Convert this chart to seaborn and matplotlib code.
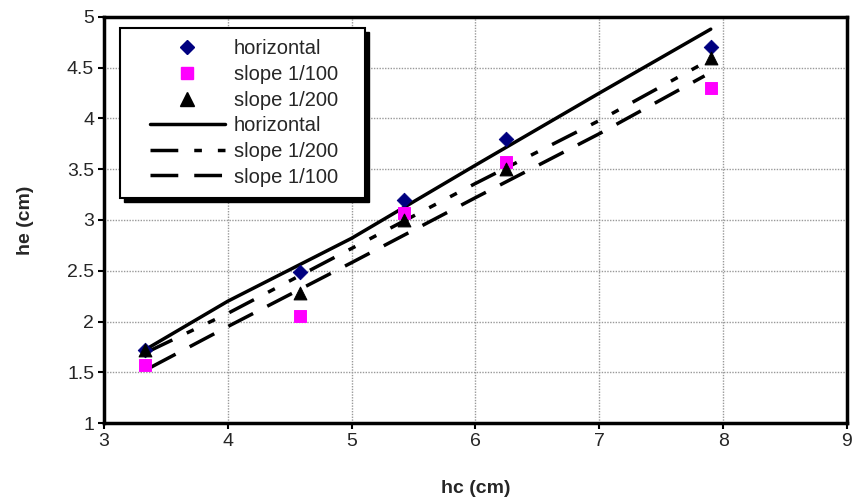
import pandas as pd
import numpy as np
import matplotlib.pyplot as plt
import seaborn as sns
from matplotlib.lines import Line2D
from matplotlib.patches import Rectangle

# measured points
hc_pts = [3.33, 4.58, 5.42, 6.25, 7.90]
he_horizontal = [1.72, 2.49, 3.20, 3.80, 4.70]
he_slope100 = [1.57, 2.05, 3.07, 3.57, 4.30]
he_slope200 = [1.72, 2.28, 3.00, 3.50, 4.60]

# fitted curves
hc_fit_h = [3.33, 4.0, 5.0, 6.0, 7.0, 7.90]
he_fit_h = [1.72, 2.20, 2.82, 3.54, 4.25, 4.88]
hc_fit_200 = [3.35, 4.0, 5.0, 6.0, 7.0, 7.88]
he_fit_200 = [1.70, 2.08, 2.72, 3.36, 3.98, 4.57]
hc_fit_100 = [3.38, 4.0, 5.0, 6.0, 7.0, 7.85]
he_fit_100 = [1.55, 1.95, 2.58, 3.22, 3.85, 4.42]

sns.set_style("white")
plt.rcParams['font.family'] = ['Liberation Sans', 'DejaVu Sans']
plt.rcParams['lines.scale_dashes'] = False

fig = plt.figure(figsize=(8.55, 5.04), dpi=100)
ax = fig.add_axes([0.1216, 0.1607, 0.8690, 0.8056])

fs = 14
lw = 2.5
dash_dot = (0, (20, 11.5, 5.5, 11.5, 5.5, 11.5))
long_dash = (0, (20, 11.5))

# lines
sns.lineplot(x=hc_fit_h, y=he_fit_h, ax=ax, color='black', lw=lw, sort=False)
sns.lineplot(x=hc_fit_200, y=he_fit_200, ax=ax, color='black', lw=lw, sort=False,
             linestyle=dash_dot)
sns.lineplot(x=hc_fit_100, y=he_fit_100, ax=ax, color='black', lw=lw, sort=False,
             linestyle=long_dash)

# points
sns.scatterplot(x=hc_pts, y=he_horizontal, ax=ax, marker='D', color='#000080',
                s=55, edgecolor='#000080', zorder=5)
sns.scatterplot(x=hc_pts, y=he_slope100, ax=ax, marker='s', color='#FF00FF',
                s=70, edgecolor='#FF00FF', zorder=5)
sns.scatterplot(x=hc_pts, y=he_slope200, ax=ax, marker='^', color='black',
                s=85, edgecolor='black', zorder=6)

ax.set_xlim(3, 9)
ax.set_ylim(1, 5)
ax.set_xticks(np.arange(3, 10, 1))
ax.set_yticks(np.arange(1, 5.01, 0.5))
ax.set_yticklabels(['1', '1.5', '2', '2.5', '3', '3.5', '4', '4.5', '5'])
ax.grid(True, color='#999999', linestyle=(0, (1, 1)), linewidth=1)
ax.set_axisbelow(True)
for s in ax.spines.values():
    s.set_visible(True)
    s.set_color('black')
    s.set_linewidth(2.5)
ax.tick_params(axis='both', direction='out', length=4, width=1.5,
               labelsize=fs, color='black', bottom=True, left=True, pad=3)
ax.set_xlabel('hc (cm)', fontsize=fs, fontweight='bold', labelpad=22)
ax.set_ylabel('he (cm)', fontsize=fs, fontweight='bold', labelpad=24)

# legend box with shadow
ax.add_patch(Rectangle((0.0269, 0.544), 0.3295, 0.419, transform=ax.transAxes,
                       facecolor='black', edgecolor='black', zorder=9))
ax.add_patch(Rectangle((0.0215, 0.554), 0.3295, 0.419, transform=ax.transAxes,
                       facecolor='white', edgecolor='black', lw=1.5, zorder=10))

handles = [
    Line2D([], [], ls='none', marker='D', color='#000080', ms=7.5),
    Line2D([], [], ls='none', marker='s', color='#FF00FF', ms=8.5),
    Line2D([], [], ls='none', marker='^', color='black', ms=9.5),
    Line2D([], [], color='black', lw=lw),
    Line2D([], [], color='black', lw=lw, ls=dash_dot),
    Line2D([], [], color='black', lw=lw, ls=long_dash),
]
labels = ['horizontal', 'slope 1/100', 'slope 1/200',
          'horizontal', 'slope 1/200', 'slope 1/100']
leg = ax.legend(handles, labels, loc='upper left', bbox_to_anchor=(0.062, 0.945),
                fontsize=fs + 0.5, frameon=False, handlelength=3.7,
                handletextpad=0.45, labelspacing=0.33, borderpad=0,
                borderaxespad=0)
leg.set_zorder(11)

fig.savefig('out.png', dpi=100)
